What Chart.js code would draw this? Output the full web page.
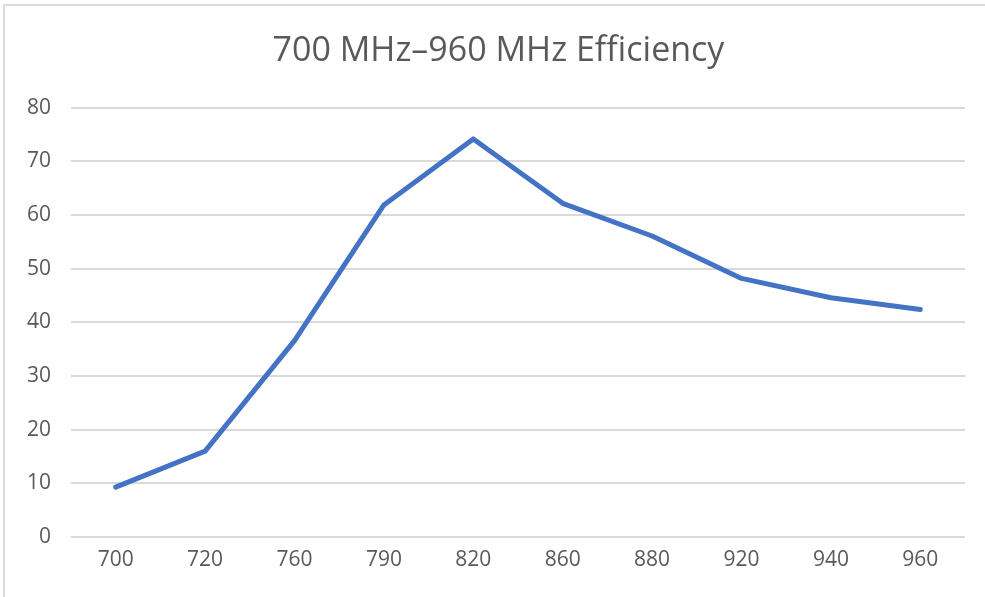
<!DOCTYPE html>
<html>
<head>
<meta charset="utf-8">
<script src="https://cdn.jsdelivr.net/npm/chart.js@4/dist/chart.umd.min.js"></script>
<style>
  html, body { margin: 0; padding: 0; background: #fff; }
  #wrap { position: relative; width: 985px; height: 597px; overflow: hidden; }
  #frame { position: absolute; left: 3px; top: 4px; width: 1000px; height: 700px;
           border-top: 2px solid #d9d9d9; border-left: 2px solid #d9d9d9; box-sizing: border-box; }
  canvas { position: absolute; left: 0; top: 0; }
</style>
</head>
<body>
<div id="wrap">
  <div id="frame"></div>
  <canvas id="c" width="985" height="597"></canvas>
</div>
<script>
const chartTitle = '700 MHz\u2013960 MHz Efficiency';
const frequencies = ['700', '720', '760', '790', '820', '860', '880', '920', '940', '960'];
const efficiency = [9.3, 16.0, 36.6, 61.9, 74.2, 62.2, 56.1, 48.2, 44.6, 42.4];
const yTicks = [0, 10, 20, 30, 40, 50, 60, 70, 80];

const textColor = '#595959';
const gridColor = '#d9d9d9';
const titleFont = { family: 'Open Sans', size: 34, weight: 'normal' };

// Draws the title text slightly right of centre (as in the reference),
// inside the space reserved by the built-in (transparent) title block.
const shiftedTitle = {
  id: 'shiftedTitle',
  afterDraw(chart) {
    const tb = chart.titleBlock;
    const ctx = chart.ctx;
    ctx.save();
    ctx.fillStyle = textColor;
    ctx.font = `${titleFont.weight} ${titleFont.size}px "${titleFont.family}"`;
    ctx.textAlign = 'center';
    ctx.textBaseline = 'middle';
    const pad = tb.options.padding;
    const y = tb.top + pad.top + (tb.bottom - tb.top - pad.top - pad.bottom) / 2;
    ctx.fillText(chartTitle, chart.width / 2 + 6, y);
    ctx.restore();
  }
};

new Chart(document.getElementById('c'), {
  type: 'line',
  data: {
    labels: frequencies,
    datasets: [{
      data: efficiency,
      borderColor: '#4472C4',
      borderWidth: 5,
      pointRadius: 0,
      tension: 0,
      fill: false,
      borderJoinStyle: 'round',
      borderCapStyle: 'round'
    }]
  },
  options: {
    responsive: false,
    animation: false,
    devicePixelRatio: 1,
    layout: { padding: { left: 0, right: 20, top: 0, bottom: 0 } },
    plugins: {
      legend: { display: false },
      tooltip: { enabled: false },
      title: {
        display: true,
        text: chartTitle,
        color: 'rgba(0,0,0,0)',
        font: titleFont,
        padding: { top: 31, bottom: 36 }
      }
    },
    scales: {
      x: {
        offset: true,
        grid: { display: false, drawTicks: false },
        border: { display: false },
        ticks: {
          color: textColor,
          font: { family: 'Open Sans', size: 21 },
          padding: 10,
          maxRotation: 0
        },
        afterFit: (s) => { s.height = 60; }
      },
      y: {
        min: 0,
        max: 80,
        afterBuildTicks: (s) => { s.ticks = yTicks.map(v => ({ value: v })); },
        grid: { color: gridColor, lineWidth: 2, drawTicks: false },
        border: { display: false },
        ticks: {
          color: textColor,
          font: { family: 'Open Sans', size: 21 },
          padding: 20
        },
        afterFit: (s) => { s.width = 71; }
      }
    }
  },
  plugins: [shiftedTitle]
});
</script>
</body>
</html>
